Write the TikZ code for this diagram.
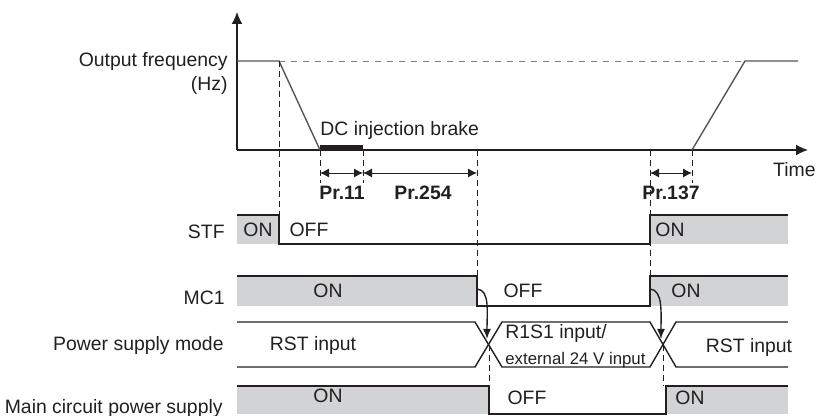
\documentclass[tikz,border=0pt]{standalone}
\usepackage{fontspec}
\setmainfont{Liberation Sans}
\usepackage{xcolor}
\usetikzlibrary{arrows.meta}
\definecolor{bandgray}{RGB}{209,211,212}
\definecolor{ink}{RGB}{35,31,32}
\definecolor{freqgray}{RGB}{85,85,85}

\begin{document}
\begin{tikzpicture}[x=0.5pt,y=-0.5pt,
    sig/.style={line width=0.7pt, ink},
    band/.style={fill=bandgray},
    guide/.style={line width=0.4pt, ink, dash pattern=on 3pt off 2pt},
    span/.style={line width=0.45pt, ink, {Latex[length=4.5pt,width=4.5pt]}-{Latex[length=4.5pt,width=4.5pt]}},
    txt/.style={font=\fontsize{9.7}{12}\selectfont, text=ink, inner sep=0pt},
    prm/.style={font=\fontsize{9.7}{12}\selectfont\bfseries, text=ink, inner sep=0pt}]
    \useasboundingbox (0,0) rectangle (816,416);
    % frequency axes
    \coordinate (o) at (237,150);
    \coordinate (ytip) at (237,12);
    \coordinate (xtip) at (808,150);
    \draw[sig, -{Latex[length=6pt,width=5.5pt]}] (o) -- (ytip);
    \draw[sig, -{Latex[length=6pt,width=5.5pt]}] (o) -- (xtip);
    \draw[guide, gray, dash pattern=on 3pt off 3pt] (279,61) -- (745,61);
    \draw[sig, freqgray] (237,61) -- (279,61) -- (320,150);
    \draw[sig, freqgray] (692,150) -- (745,61) -- (798,61);
    \draw[line width=2pt, ink] (320,147.5) -- (363,147.5);
    % timing guides
    \foreach \gx/\gtop/\gbot in {279/61/215, 320/150/183, 363/150/183, 477/150/276, 650/150/276, 692/150/183, 489/345/386, 663/345/386}
    {
        \draw[guide] (\gx,\gtop) -- (\gx,\gbot);
    }
    \foreach \sa/\sb in {320/363, 363/477, 650/692}
    {
        \draw[span] (\sa,173) -- (\sb,173);
    }
    % STF
    \fill[band] (237,215) rectangle (279,244);
    \fill[band] (650,215) rectangle (788,244);
    \draw[sig] (237,215) -- (279,215) -- (279,244) -- (650,244) -- (650,215) -- (788,215);
    % MC1
    \fill[band] (237,276) rectangle (477,306);
    \fill[band] (650,276) rectangle (788,306);
    \draw[sig] (237,276) -- (477,276) -- (477,306) -- (650,306) -- (650,276) -- (788,276);
    % power supply mode
    \draw[sig] (237,322) -- (475,322) -- (502,367) -- (650,367) -- (676,322) -- (788,322);
    \draw[sig] (237,367) -- (475,367) -- (502,322) -- (650,322) -- (676,367) -- (788,367);
    \draw[sig, -{Latex[length=5pt,width=4pt]}] (477,289) .. controls (490,290) and (487,312) .. (487,339);
    \draw[sig, -{Latex[length=5pt,width=4pt]}] (650,289) .. controls (663,290) and (661,312) .. (661,339);
    % main circuit power supply
    \fill[band] (237,386) rectangle (489,414);
    \fill[band] (666,386) rectangle (788,414);
    \draw[sig] (237,386) -- (489,386) -- (489,414) -- (666,414) -- (666,386) -- (788,386);

    \node[txt, anchor=east, align=right] (freq) at (228,73) {Output frequency\\(Hz)};
    \node[txt, anchor=east] (time) at (816,170) {Time};
    \node[txt, anchor=west] (dcb) at (320,130) {DC injection brake};
    \node[prm] (pr11) at (342,193) {Pr.11};
    \node[prm] (pr254) at (423,193) {Pr.254};
    \node[prm] (pr137) at (671,193) {Pr.137};

    \node[txt, anchor=east] (stf) at (225,232) {STF};
    \node[txt] (stfon) at (258,230) {ON};
    \node[txt] (stfoff) at (309,230) {OFF};
    \node[txt] (stfon2) at (670,230) {ON};

    \node[txt, anchor=east] (mc) at (225,298) {MC1};
    \node[txt] (mcon) at (328,291) {ON};
    \node[txt] (mcoff) at (523,291) {OFF};
    \node[txt] (mcon2) at (686,291) {ON};

    \node[txt, anchor=east] (psm) at (224,345) {Power supply mode};
    \node[txt] (rst) at (313,345) {RST input};
    \node[txt, anchor=west] (rs1) at (505,333) {R1S1 input/};
    \node[txt, anchor=west, font=\fontsize{8.4}{10}\selectfont] (ext) at (505,360) {external 24 V input};
    \node[txt] (rst2) at (749,347) {RST input};

    \node[txt, anchor=east] (mcps) at (223,408) {Main circuit power supply};
    \node[txt] (mpon) at (328,396) {ON};
    \node[txt] (mpoff) at (527,398) {OFF};
    \node[txt] (mpon2) at (690,398) {ON};
\end{tikzpicture}
\end{document}
